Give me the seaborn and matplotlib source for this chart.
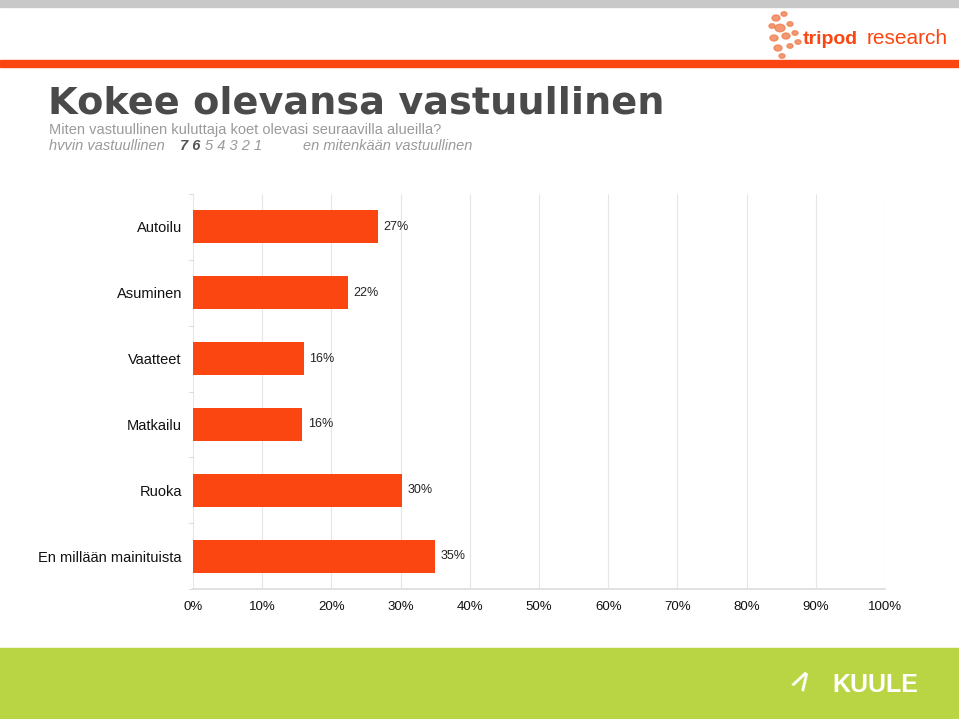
import matplotlib
matplotlib.use("Agg")
import matplotlib.pyplot as plt
import seaborn as sns
import pandas as pd
from matplotlib.patches import Rectangle, Circle

categories = ["Autoilu", "Asuminen", "Vaatteet", "Matkailu", "Ruoka", "En millään mainituista"]
values = [26.7, 22.4, 16.0, 15.8, 30.2, 35.0]
xticks = [0, 10, 20, 30, 40, 50, 60, 70, 80, 90, 100]

sns.set_theme(style="white")
plt.rcParams['font.family'] = ['Liberation Sans', 'DejaVu Sans']

df = pd.DataFrame({"cat": categories, "val": values})

fig = plt.figure(figsize=(9.59, 7.19), dpi=100)
W, H = 959, 719

def fx(px): return px / W
def fy(py): return 1 - py / H

# header / footer decoration
fig.patches.append(Rectangle((0, fy(7)), 1, 7 / H, transform=fig.transFigure, color="#c8c8c8", zorder=0))
fig.patches.append(Rectangle((0, fy(67)), 1, 7 / H, transform=fig.transFigure, color="#fc4611", zorder=0))
fig.patches.append(Rectangle((0, 0), 1, 71 / H, transform=fig.transFigure, color="#b9d543", zorder=0))

# tripod logo
dots = [(776, 18, 4), (784, 14, 3), (780, 28, 5), (790, 24, 3), (774, 38, 4), (786, 36, 4),
        (795, 33, 3), (778, 48, 4), (790, 46, 3), (772, 26, 3), (798, 42, 3), (782, 56, 3)]
for (cx, cy, r) in dots:
    fig.patches.append(Circle((fx(cx), fy(cy)), r / W, transform=fig.transFigure,
                              color="#f08050", alpha=0.8, zorder=1))
fig.text(fx(803), fy(39), "tripod", color="#fc4611", fontsize=14, fontweight="bold",
         family=["Liberation Sans"], va="center", ha="left")
fig.text(fx(948), fy(39), "research", color="#fc4611", fontsize=15,
         family=["Liberation Sans"], va="center", ha="right")

# Kuule logo
fig.text(fx(832), fy(685), "KUULE", color="white", fontsize=18, fontweight="bold",
         family=["Liberation Sans"], va="center", ha="left")
fig.text(fx(800), fy(683), "\u2227", color="white", fontsize=22, rotation=-30,
         va="center", ha="center")

# titles
fig.text(fx(48), fy(103), "Kokee olevansa vastuullinen", fontsize=27.5, fontweight="bold",
         color="#4a4a4a", family=["DejaVu Sans"], va="center", ha="left")
fig.text(fx(49), fy(130), "Miten vastuullinen kuluttaja koet olevasi seuraavilla alueilla?",
         fontsize=10.5, color="#9a9a9a", va="center", ha="left")
fig.text(fx(49), fy(146), "hvvin vastuullinen", fontsize=10.5, color="#9a9a9a",
         style="italic", va="center", ha="left")
fig.text(fx(180), fy(146), "7 6", fontsize=10.5, color="#555555", fontweight="bold",
         style="italic", va="center", ha="left")
fig.text(fx(205), fy(146), "5 4 3 2 1", fontsize=10.5, color="#9a9a9a",
         style="italic", va="center", ha="left")
fig.text(fx(303), fy(146), "en mitenkään vastuullinen", fontsize=10.5, color="#9a9a9a",
         style="italic", va="center", ha="left")

ax = fig.add_axes([fx(193), fy(589), fx(885) - fx(193), (589 - 194) / H])
sns.barplot(data=df, y="cat", x="val", orient="h", color="#fc4611", width=0.5,
            saturation=1, ax=ax, zorder=3)
for p in ax.patches:
    p.set_edgecolor("none")
ax.bar_label(ax.containers[0], labels=[f"{round(v)}%" for v in values], padding=4,
             fontsize=9, color="#222222")

ax.set_xlim(0, 100)
ax.set_ylim(len(categories) - 0.5, -0.5)
ax.set_xticks(xticks)
ax.set_xticklabels([f"{t}%" for t in xticks], fontsize=9.5, color="#111111")
ax.set_yticks(range(len(categories)))
ax.set_yticklabels(categories, fontsize=10.5, color="#111111")
ax.set_xlabel("")
ax.set_ylabel("")
ax.grid(axis="x", color="#e6e6e6", linewidth=0.8, zorder=0)
ax.set_axisbelow(True)
for s in ["top", "right", "left"]:
    ax.spines[s].set_visible(False)
ax.spines["bottom"].set_color("#dddddd")
ax.tick_params(axis="x", length=0, pad=9)
ax.tick_params(axis="y", length=0, pad=8)
# category separator ticks on left
for i in range(len(categories) + 1):
    ax.plot([-0.6, 0], [i - 0.5, i - 0.5], color="#dddddd", lw=0.8, clip_on=False, zorder=1)

fig.savefig("out.png", dpi=100)
